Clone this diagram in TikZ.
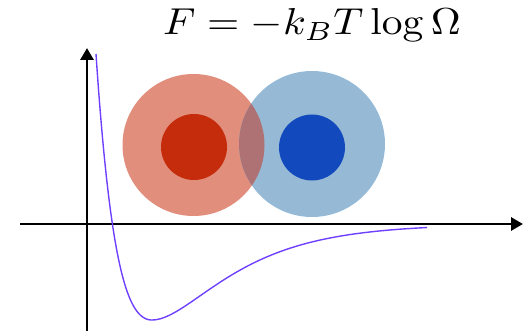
\documentclass[tikz,border=0pt]{standalone}
\usepackage{graphicx}
\usetikzlibrary{arrows.meta}
\definecolor{redouter}{RGB}{225,142,124}
\definecolor{blueouter}{RGB}{150,186,214}
\definecolor{overlap}{RGB}{174,114,116}
\definecolor{redinner}{RGB}{196,44,12}
\definecolor{blueinner}{RGB}{18,74,190}
\definecolor{curvecol}{RGB}{112,64,255}
\tikzset{
  axis/.style={line width=2.9pt, -{Triangle[length=12pt,width=13pt]}},
  potential/.style={curvecol, line width=1.4pt, line join=round}
}
\begin{document}
\begin{tikzpicture}[x=1pt,y=-1pt]
\useasboundingbox (0,0) rectangle (529,331);
% coordinates
\coordinate (origin) at (87,224);
\coordinate (xstart) at (20,224);
\coordinate (xend) at (523,224);
\coordinate (ystart) at (87,331);
\coordinate (yend) at (87,48);
\coordinate (redc) at (193.5,145);
\coordinate (bluec) at (312,144);
% circles
\fill[redouter] (redc) circle (71);
\fill[blueouter] (bluec) circle (73);
\begin{scope}
  \clip (redc) circle (71);
  \fill[overlap] (bluec) circle (73);
\end{scope}
\fill[redinner] (194,147) circle (33);
\fill[blueinner] (312,147.5) circle (33);
% axes
\draw[axis] (xstart) -- (xend);
\draw[axis] (ystart) -- (yend);
% potential curve (Morse-like)
\draw[potential] plot[domain=96:152, samples=80]
  (\x, {224-96*((1-exp(-0.0175*(\x-152)))*(1-exp(-0.0175*(\x-152)))-1)})
  -- plot[domain=152:427, samples=100]
  (\x, {224-96*((1-exp(-0.0145*(\x-152)))*(1-exp(-0.0145*(\x-152)))-1)});
% formula
\node[anchor=base, inner sep=0pt] (formula) at (312,35)
  {\scalebox{4.15}[3.75]{$F=-k_BT\log\Omega$}};
\end{tikzpicture}
\end{document}
